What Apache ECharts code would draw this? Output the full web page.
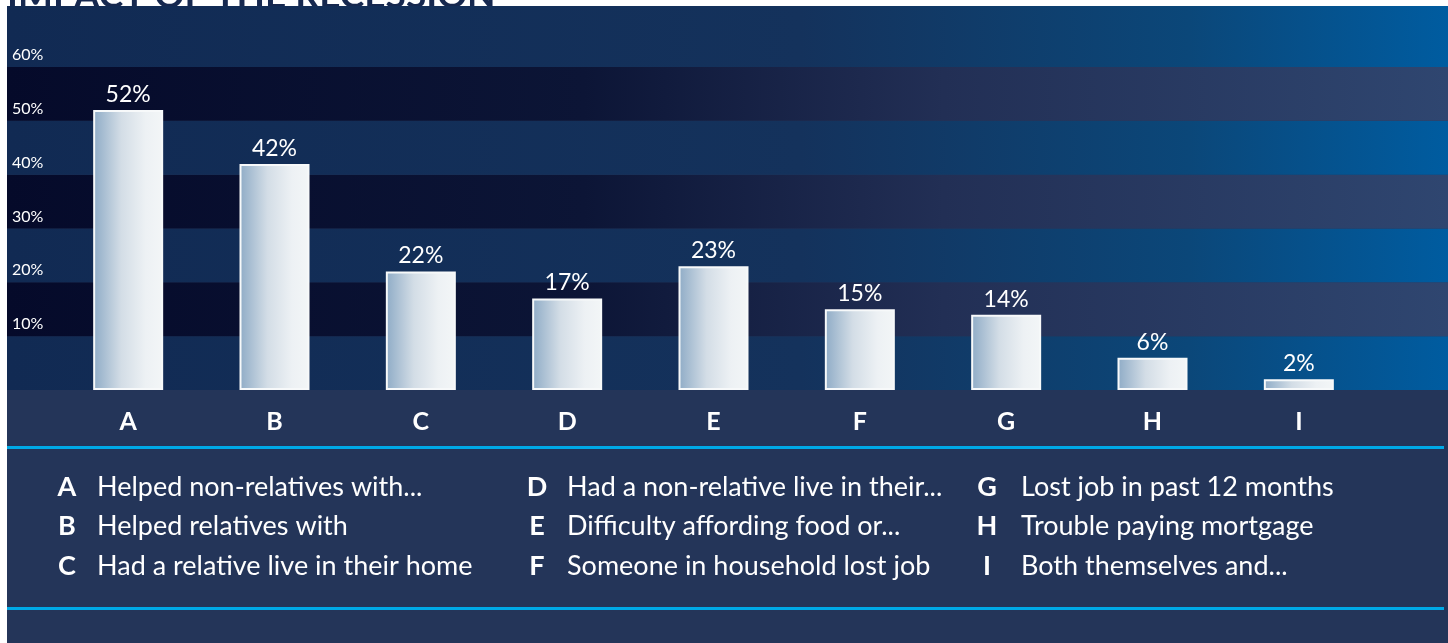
<!DOCTYPE html>
<html>
<head>
<meta charset="utf-8">
<script src="https://cdn.jsdelivr.net/npm/echarts@6/dist/echarts.min.js"></script>
<style>
  html, body { margin: 0; padding: 0; background: #ffffff; }
  #chart { width: 1448px; height: 643px; }
</style>
</head>
<body>
<div id="chart"></div>
<script>
// data
const categories = ['A', 'B', 'C', 'D', 'E', 'F', 'G', 'H', 'I'];
const values = [52, 42, 22, 17, 23, 15, 14, 6, 2];
const descriptions = [
  'Helped non-relatives with...',
  'Helped relatives with',
  'Had a relative live in their home',
  'Had a non-relative live in their...',
  'Difficulty affording food or...',
  'Someone in household lost job',
  'Lost job in past 12 months',
  'Trouble paying mortgage',
  'Both themselves and...'
];
const titleText = 'IMPACT OF THE RECESSION';

const FONT = 'Lato, "Open Sans", sans-serif';

// band colours
const lightBand = {
  type: 'linear', x: 0, y: 0, x2: 1, y2: 0,
  colorStops: [
    { offset: 0, color: '#112a53' },
    { offset: 0.55, color: '#14325c' },
    { offset: 0.82, color: '#0b4779' },
    { offset: 1, color: '#005ca0' }
  ]
};
const darkBand = {
  type: 'linear', x: 0, y: 0, x2: 1, y2: 0,
  colorStops: [
    { offset: 0, color: '#050a2a' },
    { offset: 0.4, color: '#0c1536' },
    { offset: 0.65, color: '#222f55' },
    { offset: 1, color: '#2f4670' }
  ]
};
const barFill = {
  type: 'linear', x: 0, y: 0, x2: 1, y2: 0,
  colorStops: [
    { offset: 0, color: '#8eabc6' },
    { offset: 0.4, color: '#d3dde6' },
    { offset: 0.75, color: '#edf1f4' },
    { offset: 1, color: '#f3f6f7' }
  ]
};

const myChart = echarts.init(document.getElementById('chart'));

// legend texts (letter + description), 3 columns of 3
const colLetterX = [67, 537, 987];
const colTextX = [97, 567, 1021];
const rowY = [487, 526, 566];
const legendEls = [];
descriptions.forEach(function (d, i) {
  const col = Math.floor(i / 3);
  const row = i % 3;
  legendEls.push({
    type: 'text', z: 10,
    x: colLetterX[col], y: rowY[row],
    style: {
      text: categories[i], fill: '#ffffff',
      fontFamily: FONT, fontWeight: 'bold', fontSize: 27,
      align: 'center', verticalAlign: 'middle'
    }
  });
  legendEls.push({
    type: 'text', z: 10,
    x: colTextX[col], y: rowY[row],
    style: {
      text: d, fill: '#ffffff',
      fontFamily: FONT, fontSize: 27,
      align: 'left', verticalAlign: 'middle'
    }
  });
});

const option = {
  backgroundColor: '#ffffff',
  animation: false,
  graphic: [
    // cut-off title at the very top
    {
      type: 'text', z: -20, x: 7, y: 15,
      style: {
        text: titleText, fill: '#16284f',
        fontFamily: FONT, fontWeight: 'bold', fontSize: 37,
        align: 'left', verticalAlign: 'bottom'
      }
    },
    // panel
    { type: 'rect', z: -10, shape: { x: 7, y: 6, width: 1441, height: 637 }, style: { fill: '#243559' } },
    // band above 60%
    { type: 'rect', z: -9, shape: { x: 7, y: 6, width: 1441, height: 61 }, style: { fill: lightBand } },
    // cyan rules
    { type: 'rect', z: 5, shape: { x: 7, y: 446, width: 1437, height: 3 }, style: { fill: '#00a9e6' } },
    { type: 'rect', z: 5, shape: { x: 7, y: 607, width: 1437, height: 3 }, style: { fill: '#00a9e6' } }
  ].concat(legendEls),
  grid: [
    // full-width background grid for the bands and y labels
    { left: 7, right: 0, top: 67, bottom: 253 },
    // bars
    { left: 55, right: 76, top: 67, bottom: 253 }
  ],
  xAxis: [
    { type: 'value', gridIndex: 0, min: 0, max: 1, show: false },
    {
      type: 'category', gridIndex: 1, data: categories,
      axisLine: { show: false }, axisTick: { show: false },
      axisLabel: {
        color: '#ffffff', fontFamily: FONT, fontWeight: 'bold',
        fontSize: 25, margin: 19
      }
    }
  ],
  yAxis: [
    {
      type: 'value', gridIndex: 0, min: 0, max: 60, interval: 10,
      axisLine: { show: false }, axisTick: { show: false },
      splitLine: { show: false },
      splitArea: { show: true, areaStyle: { color: [lightBand, darkBand] } },
      axisLabel: {
        inside: true, margin: 5, color: '#ffffff',
        fontFamily: FONT, fontSize: 16,
        verticalAlign: 'bottom', padding: [0, 0, 4, 0],
        formatter: function (v) { return v === 0 ? '' : v + '%'; }
      }
    },
    { type: 'value', gridIndex: 1, min: 0, max: 60, show: false }
  ],
  series: [
    {
      type: 'bar', xAxisIndex: 1, yAxisIndex: 1,
      data: values, barWidth: 70,
      itemStyle: { color: barFill, borderColor: '#f7f9fa', borderWidth: 2 },
      label: {
        show: true, position: 'top', distance: 4,
        color: '#ffffff', fontFamily: FONT, fontSize: 23,
        formatter: '{c}%'
      }
    }
  ]
};

myChart.setOption(option);
</script>
</body>
</html>
